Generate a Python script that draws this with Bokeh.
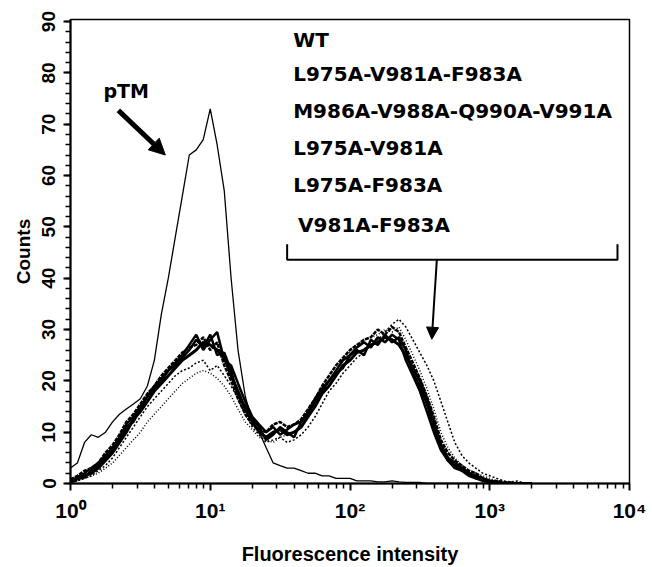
from bokeh.plotting import figure
from bokeh.models import Range1d, SingleIntervalTicker, FixedTicker, Arrow, NormalHead, ColumnDataSource
from bokeh.core.properties import value
from bokeh.embed import file_html
from bokeh.resources import INLINE

# Fluorescence intensity channels (log scale)
intensity = [1.00, 1.12, 1.26, 1.41, 1.58, 1.78, 2.00, 2.24, 2.51, 2.82,
             3.16, 3.55, 3.98, 4.47, 5.01, 5.62, 6.31, 7.08, 7.94, 8.91,
             10.0, 11.2, 12.6, 14.1, 15.8, 17.8, 20.0, 22.4, 25.1, 28.2,
             31.6, 35.5, 39.8, 44.7, 50.1, 56.2, 63.1, 70.8, 79.4, 89.1,
             100, 112, 126, 141, 158, 178, 200, 224, 251, 282,
             316, 355, 398, 447, 501, 562, 631, 708, 794, 891,
             1000, 1122, 1259, 1413, 1585, 1778, 1995]

ptm = [3, 4, 8, 9.5, 9, 10, 12, 13.5, 14.5, 15.5,
       16.5, 19, 24, 33, 40, 48, 56, 64, 65, 67,
       73, 66, 57, 40, 26, 17, 12, 10, 7, 4,
       3.5, 3, 3, 2.5, 2, 2, 1.5, 1.5, 1, 1,
       1, 0.5, 0.5, 0.5, 0.3, 0.3, 0.5, 0.3, 0.2, 0.2,
       0.2, 0, 0, 0, 0, 0, 0, 0, 0, 0,
       0, 0, 0, 0, 0, 0, 0]

wt = [0.5, 1, 1.5, 2, 3, 4.5, 6, 8, 10, 12.5,
      14, 16, 18, 19.5, 21, 22.5, 24, 25, 26, 27.5,
      27, 26, 24.5, 21, 18, 14.5, 12, 10, 9, 10,
      10.5, 9.5, 10, 11, 13, 15, 17.5, 19, 21, 23,
      24, 25.5, 26, 27, 27.5, 28.5, 28, 27, 25, 22.5,
      20, 16.5, 12, 7.5, 5, 4, 3, 2, 1.5, 1,
      0.5, 0.3, 0, 0, 0, 0, 0]

l975_v981_f983 = [0.3, 0.8, 1.2, 2.5, 3.5, 5, 6.5, 8.5, 11, 12,
                  14.5, 17, 18.5, 20, 22, 23, 24.5, 26, 28, 26.5,
                  29, 25, 25.5, 22, 17, 15, 12.5, 11, 8.5, 9.5,
                  11, 10, 9, 12, 13.5, 16, 18, 20, 21.5, 22.5,
                  25, 26, 25, 28, 27, 29, 27.5, 28.5, 26, 21.5,
                  19, 15.5, 11, 7, 4.5, 3.5, 2.5, 2, 1, 0.8,
                  0.3, 0, 0, 0, 0, 0, 0]

m986_v988_q990_v991 = [0.2, 0.5, 1, 1.5, 2.5, 3.5, 5, 7, 9, 11,
                       13, 15, 16.5, 18, 19.5, 21, 22, 22.5, 23.5, 24,
                       22, 23, 21, 19, 16.5, 13.5, 11, 9.5, 8, 8.5,
                       9, 8, 8.5, 9.5, 11, 13, 15.5, 18, 19.5, 21.5,
                       23, 24.5, 25.5, 27, 28, 29.5, 31, 32, 30.5, 28,
                       25.5, 23, 20, 16, 12, 8, 5.5, 4, 3, 2,
                       1.5, 1, 0.5, 0.3, 0.5, 0, 0]

l975_v981 = [0.5, 1.2, 2, 3, 4, 5.5, 7, 9, 11.5, 13,
             15, 17, 19, 20.5, 22, 23.5, 25, 27, 29, 26,
             28, 29.5, 24, 23, 19.5, 16, 13, 11.5, 10, 11,
             9.5, 10.5, 11.5, 12, 14, 16.5, 18.5, 20, 22, 24,
             25, 26.5, 27.5, 26.5, 28.5, 27.5, 29, 28, 24, 21,
             18, 14, 10, 6.5, 4.5, 3, 2.5, 1.5, 1, 0.5,
             0.2, 0, 0, 0, 0, 0, 0]

l975_f983 = [0, 0.5, 1, 1.5, 2, 3, 4, 5.5, 7, 8.5,
             10, 12, 13.5, 15, 16.5, 18, 19.5, 20.5, 21.5, 22,
             21.5, 20.5, 19, 17, 14.5, 12, 10.5, 9, 8.5, 8,
             9, 9.5, 10, 11.5, 13, 15.5, 17.5, 20, 22, 24,
             25.5, 26.5, 28, 28.5, 29, 30, 29.5, 30.5, 28, 25,
             22, 18.5, 14.5, 10, 7, 5, 3.5, 2.5, 2, 1.5,
             1, 0.5, 0.3, 0, 0, 0, 0]

v981_f983 = [0.8, 1.5, 2.5, 3, 4, 6, 7.5, 9.5, 12, 13.5,
             15.5, 17.5, 19, 21, 22.5, 24, 25.5, 26.5, 27, 28.5,
             26, 27.5, 23, 20, 16.5, 13.5, 11.5, 10.5, 10, 11.5,
             12, 11, 11.5, 12.5, 14.5, 16.5, 19, 21, 23, 24.5,
             26, 27, 28, 28.5, 30, 29, 30.5, 29.5, 26.5, 23.5,
             20.5, 17, 13, 8.5, 6, 4.5, 3.5, 2.5, 2, 1,
             0.5, 0.5, 0.3, 0.2, 0, 0, 0]

mutant_names = ["WT", "L975A-V981A-F983A", "M986A-V988A-Q990A-V991A",
                "L975A-V981A", "L975A-F983A", "V981A-F983A"]
mutant_series = [wt, l975_v981_f983, m986_v988_q990_v991, l975_v981, l975_f983, v981_f983]
mutant_widths = [3.0, 2.5, 1.5, 2.5, 1.5, 2.5]
mutant_dashes = ["solid", "solid", "2 2", "solid", "1 2", "4 1"]

x_tick_labels = {1: "10⁰", 10: "10¹", 100: "10²", 1000: "10³", 10000: "10⁴"}

# label block positions (data units)
label_x = [39.2, 39.2, 39.2, 39.2, 39.2, 42.5]
label_y = [86.5, 79.7, 72.6, 65.4, 58.2, 50.4]

FONT = "DejaVu Sans"
AXFONT = "Liberation Sans"

p = figure(width=652, height=567, x_axis_type="log",
           x_range=Range1d(1, 10000), y_range=Range1d(0, 90.4),
           output_backend="svg", toolbar_location=None,
           min_border_left=70, min_border_right=23, min_border_top=19, min_border_bottom=82)

p.xgrid.visible = False
p.ygrid.visible = False
p.outline_line_color = "black"
p.outline_line_width = 1.5
p.background_fill_color = "white"
p.border_fill_color = "white"

# pTM
p.line(intensity, ptm, line_color="black", line_width=1.3)

for vals, w, d in zip(mutant_series, mutant_widths, mutant_dashes):
    p.line(intensity, vals, line_color="black", line_width=w, line_dash=d)

# axes
p.yaxis.ticker = SingleIntervalTicker(interval=10, num_minor_ticks=5)
p.xaxis.ticker = FixedTicker(ticks=[1, 10, 100, 1000, 10000],
                             minor_ticks=[m * 10 ** k for k in range(4) for m in range(2, 10)])
p.xaxis.major_label_overrides = x_tick_labels

for ax in (p.xaxis[0], p.yaxis[0]):
    ax.axis_line_width = 2
    ax.axis_line_color = "black"
    ax.major_tick_line_width = 2
    ax.minor_tick_line_width = 1.5
    ax.major_tick_in = 0
    ax.major_tick_out = 7
    ax.minor_tick_in = 0
    ax.minor_tick_out = 5
    ax.major_label_text_font = AXFONT
    ax.major_label_text_font_style = "bold"
    ax.major_label_text_color = "black"
    ax.axis_label_text_font = AXFONT
    ax.axis_label_text_font_style = "bold"
    ax.axis_label_text_color = "black"

p.xaxis.axis_label = "Fluorescence intensity"
p.xaxis.axis_label_text_font_size = "20px"
p.xaxis.major_label_text_font_size = "21px"
p.xaxis.major_label_standoff = 8
p.xaxis.axis_label_standoff = 18

p.yaxis.axis_label = "Counts"
p.yaxis.axis_label_text_font_size = "19px"
p.yaxis.major_label_text_font_size = "19px"
p.yaxis.major_label_orientation = "vertical"
p.yaxis.major_label_standoff = 8
p.yaxis.axis_label_standoff = 6

# label list
src = ColumnDataSource(dict(x=label_x, y=label_y, t=mutant_names))
p.text(x="x", y="y", text="t", source=src, text_font=value(FONT), text_font_style="bold",
       text_font_size="20px", text_baseline="middle", text_align="left", text_color="black")

# pTM label and arrow
p.text(x=[1.72], y=[76.5], text=["pTM"], text_font=value(FONT), text_font_style="bold",
       text_font_size="19px", text_baseline="alphabetic", text_align="left", text_color="black")
p.add_layout(Arrow(end=NormalHead(size=16, fill_color="black", line_color="black"),
                   x_start=2.2, y_start=72.7, x_end=4.77, y_end=64.0,
                   line_width=5, line_color="black"))

# bracket
bx0, bx1, by, btop = 35.5, 8204, 43.6, 46.6
p.line([bx0, bx0, bx1, bx1], [btop, by, by, btop], line_color="black", line_width=2)
p.add_layout(Arrow(end=NormalHead(size=12, fill_color="black", line_color="black"),
                   x_start=418, y_start=by, x_end=385, y_end=28.1,
                   line_width=2, line_color="black"))

open("out.html", "w").write(file_html(p, INLINE))
